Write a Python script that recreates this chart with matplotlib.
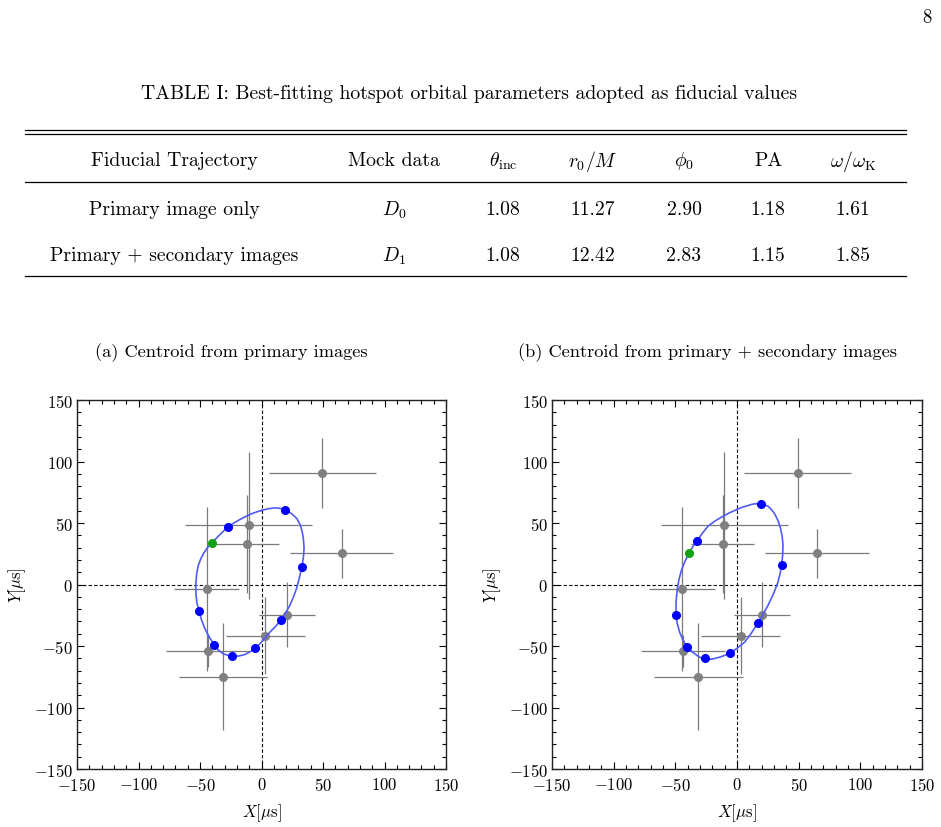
import numpy as np
import matplotlib
matplotlib.use("Agg")
import matplotlib.pyplot as plt
from matplotlib.lines import Line2D
from matplotlib.ticker import MultipleLocator

plt.rcParams["font.family"] = ["cmr10", "DejaVu Serif"]
plt.rcParams["mathtext.fontset"] = "cm"
plt.rcParams["axes.formatter.use_mathtext"] = True

# table
headers = ["Fiducial Trajectory", "Mock data", r"$\theta_{\rm inc}$", r"$r_0/M$",
           r"$\phi_0$", "PA", r"$\omega/\omega_{\rm K}$"]
row_names = ["Primary image only", "Primary + secondary images"]
mock_data = [r"$D_0$", r"$D_1$"]
theta_inc = [1.08, 1.08]
r0_M = [11.27, 12.42]
phi0 = [2.90, 2.83]
pa = [1.18, 1.15]
omega_ratio = [1.61, 1.85]

# mock data centroids (same for both panels)
obs_x = [49.2, 65.1, -10.3, -11.6, -44.6, -43.5, -31.4, 3.2, 20.5]
obs_y = [90.5, 25.5, 48.0, 33.0, -3.3, -54.2, -75.0, -41.5, -24.4]
obs_xerr = [43.5, 42.0, 51.5, 25.7, 26.6, 34.0, 36.0, 32.0, 22.8]
obs_yerr = [28.5, 20.0, 60.0, 40.0, 66.7, 13.0, 43.6, 31.0, 26.5]

# (a) primary only
curve_a_x = [0, 5.5, 10.8, 15.5, 19.5, 24.5, 28.9, 31.6, 33.2, 34.2, 34.6, 34.0, 32.7,
             30.8, 28.4, 25.9, 23, 19.6, 15.7, 11.5, 6.8, 1.0, -4.9, -9.5, -13.5, -17.8,
             -21.6, -26.5, -31, -35.2, -38.6, -42.5, -46, -48.8, -50.8, -52.4, -53.2,
             -53.5, -53.2, -52.6, -51.4, -49.6, -47.3, -44.2, -40.3, -34.0, -27.6,
             -22.6, -17.6, -12.8, -8.1, -4.0, 0]
curve_a_y = [60.2, 61.6, 62.3, 61.9, 60.4, 57.6, 53.4, 48.2, 42.5, 35.8, 29, 21.5, 14.1,
             5.4, -3.5, -10.4, -17, -23.2, -29, -34.0, -38.8, -45.6, -52, -54.8, -56.9,
             -58.0, -58.5, -57.8, -56.4, -53.2, -48.8, -42.6, -36, -28.8, -21.4, -15.2,
             -9, -3.0, 3.3, 9.4, 15.4, 20.3, 25, 29.6, 33.9, 40.4, 46.6,
             49.9, 52.8, 55.3, 57.5, 59.0, 60.2]
pts_a_x = [19.5, 32.7, 15.7, -4.9, -23.8, -38.6, -50.8, -27.6]
pts_a_y = [60.4, 14.1, -29.0, -52.0, -58.0, -48.8, -21.4, 46.6]
start_a = (-40.3, 33.9)

# (b) primary + secondary
curve_b_x = [0, 4.5, 8.9, 11.7, 14.3, 19.5, 25.1, 28.0, 30.5, 33.3, 35.4, 36.7, 37.3,
             37.0, 36.2, 35.0, 33.2, 29.5, 25.1, 21.0, 16.8, 11.8, 6.2, 0.0, -5.9,
             -10.2, -14.1, -19.0, -23.5, -26.2, -29.5, -32.4, -36.5, -40.3, -43.8, -46.5,
             -48.4, -49.5, -49.4, -48.4, -47.0, -45.1, -42.2, -38.9, -35.8, -32.4, -28.0,
             -23.5, -18.2, -12.7, -6.5, 0]
curve_b_y = [61, 62.9, 64.2, 65.1, 65.6, 65.6, 63.7, 60.9, 57.5, 51.9, 45.3, 38.5, 31.7,
             23.8, 16, 9.1, 1.9, -7.7, -17, -24.4, -31.4, -39.3, -46.9, -51.9, -55.8,
             -57.7, -59.1, -60.4, -61, -60.6, -59.5, -57.7, -54.6, -50.9, -45.2, -38.8,
             -31.8, -24.7, -13.9, -3.5, 4.2, 11.4, 18.8, 25.7, 30.8, 35.5, 41.8,
             47.4, 51.4, 54.7, 58.1, 61]
pts_b_x = [19.5, 36.2, 16.8, -5.9, -26.2, -40.3, -49.5, -32.4]
pts_b_y = [65.6, 16.0, -31.4, -55.8, -59.9, -50.9, -24.7, 35.5]
start_b = (-38.9, 25.7)

W, H = 941, 828
fig = plt.figure(figsize=(W / 100, H / 100), dpi=100)


def fx(px):
    return px / W


def fy(py):
    return 1 - py / H


def hline(y, x0=25, x1=906, lw=0.9):
    fig.add_artist(Line2D([fx(x0), fx(x1)], [fy(y), fy(y)], color="black", lw=lw))


fs_table = 14.2
fig.text(fx(927), fy(18), "8", ha="center", va="center", fontsize=13.5)
fig.text(fx(469), fy(94), "TABLE I: Best-fitting hotspot orbital parameters adopted as fiducial values",
         ha="center", va="center", fontsize=fs_table)

hline(131)
hline(135)
hline(183)
hline(277)

col_x = [174, 394, 503, 593, 684, 768, 853]
for cx, h in zip(col_x, headers):
    fig.text(fx(cx), fy(161), h, ha="center", va="center", fontsize=fs_table)

row_y = [210, 256]
for i, ry in enumerate(row_y):
    vals = [row_names[i], mock_data[i], f"{theta_inc[i]:.2f}", f"{r0_M[i]:.2f}",
            f"{phi0[i]:.2f}", f"{pa[i]:.2f}", f"{omega_ratio[i]:.2f}"]
    for cx, v in zip(col_x, vals):
        fig.text(fx(cx), fy(ry), v, ha="center", va="center", fontsize=fs_table)

fig.text(fx(231), fy(353), "(a) Centroid from primary images", ha="center", va="center", fontsize=13.2)
fig.text(fx(707), fy(353), "(b) Centroid from primary + secondary images", ha="center", va="center", fontsize=13.2)

ax1 = fig.add_axes([fx(77), fy(770), 369 / W, 369 / H])
ax2 = fig.add_axes([fx(552), fy(770), 370 / W, 369 / H])

panels = [(ax1, curve_a_x, curve_a_y, pts_a_x, pts_a_y, start_a),
          (ax2, curve_b_x, curve_b_y, pts_b_x, pts_b_y, start_b)]

for ax, cx, cy, px, py, st in panels:
    ax.axhline(0, color="black", lw=0.8, dashes=(3, 2), zorder=1)
    ax.axvline(0, color="black", lw=0.8, dashes=(3, 2), zorder=1)
    ax.errorbar(obs_x, obs_y, xerr=obs_xerr, yerr=obs_yerr, fmt="o", color="#808080",
                ecolor="#7a7a7a", elinewidth=0.9, ms=5.5, capsize=0, zorder=2)
    ax.plot(cx, cy, color="#4f5cf5", lw=1.2, zorder=3)
    ax.plot(px, py, "o", color="#0000ff", ms=5.5, zorder=4)
    ax.plot([st[0]], [st[1]], "o", color="#14a014", ms=5.5, zorder=5)

    ax.set_xlim(-150, 150)
    ax.set_ylim(-150, 150)
    ax.xaxis.set_major_locator(MultipleLocator(50))
    ax.yaxis.set_major_locator(MultipleLocator(50))
    ax.xaxis.set_minor_locator(MultipleLocator(10))
    ax.yaxis.set_minor_locator(MultipleLocator(10))
    ax.tick_params(which="both", direction="in", top=True, right=True, labelsize=12, width=0.8)
    ax.tick_params(which="major", length=5, pad=3)
    ax.tick_params(axis="x", which="major", pad=5)
    ax.tick_params(which="minor", length=3)
    for s in ax.spines.values():
        s.set_linewidth(1.0)
        s.set_color("#222222")
    ax.set_xlabel(r"$X[\mu\mathrm{s}]$", fontsize=12, labelpad=6)
    ax.set_ylabel(r"$Y[\mu\mathrm{s}]$", fontsize=12, labelpad=4)

fig.savefig("out.png", dpi=100)
